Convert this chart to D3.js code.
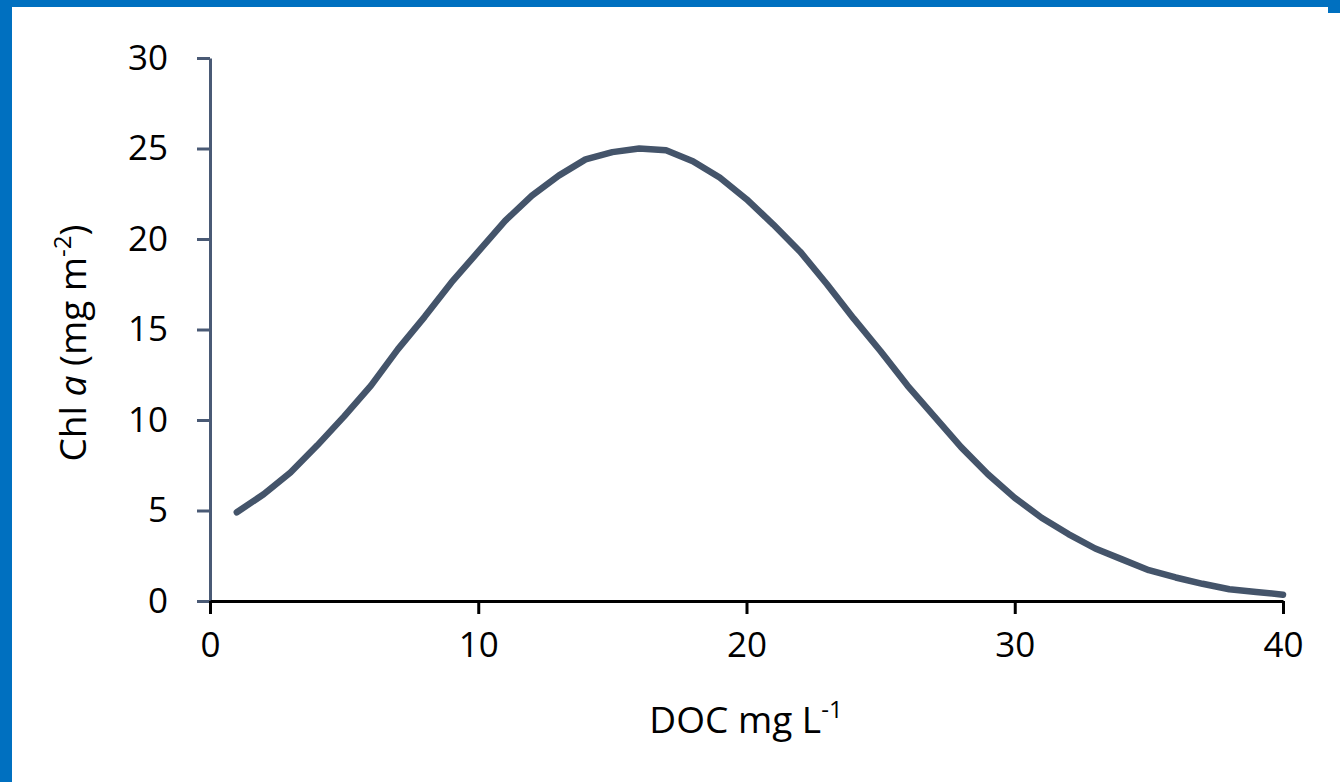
<!DOCTYPE html>
<html>
<head>
<meta charset="utf-8">
<script src="https://cdn.jsdelivr.net/npm/d3@7"></script>
<style>
  body { margin: 0; background: #fff; }
  text { font-family: "Open Sans", sans-serif; fill: #000; }
</style>
</head>
<body>
<div id="chart"></div>
<script>
const width = 1340, height = 782;

// DOC (mg/L) and Chl a (mg/m2)
const doc = [1, 2, 3, 4, 5, 6, 7, 8, 9, 10, 11, 12, 13, 14, 15, 16, 17, 18, 19, 20,
    21, 22, 23, 24, 25, 26, 27, 28, 29, 30, 31, 32, 33, 34, 35, 36, 37, 38, 39, 40];
const chl = [4.9, 5.9, 7.1, 8.6, 10.2, 11.9, 13.9, 15.7, 17.6, 19.3, 21.0, 22.4, 23.5, 24.4, 24.8, 25.0,
    24.9, 24.3, 23.4, 22.2, 20.8, 19.3, 17.5, 15.6, 13.8, 11.9, 10.2, 8.5, 7.0, 5.7,
    4.6, 3.7, 2.9, 2.3, 1.7, 1.3, 0.95, 0.65, 0.5, 0.35];
const xTicks = [0, 10, 20, 30, 40];
const yTicks = [0, 5, 10, 15, 20, 25, 30];

const svg = d3.select("#chart")
    .append("svg")
    .attr("width", width)
    .attr("height", height);

// blue frame
svg.append("rect").attr("x", 0).attr("y", 0).attr("width", width).attr("height", 7).attr("fill", "#0070C0");
svg.append("rect").attr("x", 0).attr("y", 0).attr("width", 12).attr("height", height).attr("fill", "#0070C0");
svg.append("rect").attr("x", 1328).attr("y", 0).attr("width", 12).attr("height", 13).attr("fill", "#0070C0");

const x = d3.scaleLinear().domain([0, 40]).range([210, 1283]);
const y = d3.scaleLinear().domain([0, 30]).range([601, 58]);

// y axis
const yAxis = svg.append("g")
    .attr("transform", "translate(210,0)")
    .call(d3.axisLeft(y).tickValues(yTicks).tickSize(13).tickPadding(29).tickSizeOuter(0));
yAxis.select(".domain").attr("stroke", "#4A5A75").attr("stroke-width", 3);
yAxis.selectAll(".tick line").attr("stroke", "#4A5A75").attr("stroke-width", 3);
yAxis.selectAll(".tick text").style("font-size", "35px").attr("fill", "#000");

// x axis
const xAxis = svg.append("g")
    .attr("transform", "translate(0,601)")
    .call(d3.axisBottom(x).tickValues(xTicks).tickSize(13).tickPadding(18).tickSizeOuter(0));
xAxis.select(".domain").attr("stroke", "#000").attr("stroke-width", 3);
xAxis.selectAll(".tick line").attr("stroke", "#000").attr("stroke-width", 3);
xAxis.selectAll(".tick text").style("font-size", "35px").attr("fill", "#000");

// curve
const line = d3.line()
    .x((d, i) => x(doc[i]))
    .y(d => y(d));

svg.append("path")
    .datum(chl)
    .attr("fill", "none")
    .attr("stroke", "#44546A")
    .attr("stroke-width", 6.5)
    .attr("stroke-linejoin", "round")
    .attr("stroke-linecap", "round")
    .attr("d", line);

// axis titles
const xt = svg.append("text")
    .attr("x", 746)
    .attr("y", 733)
    .attr("text-anchor", "middle")
    .style("font-size", "37px");
xt.append("tspan").text("DOC mg L");
xt.append("tspan").attr("dy", -15).style("font-size", "24px").text("-1");

const yt = svg.append("text")
    .attr("transform", "translate(86,343) rotate(-90)")
    .attr("text-anchor", "middle")
    .style("font-size", "37px");
yt.append("tspan").text("Chl ");
yt.append("tspan").style("font-style", "italic").text("a");
yt.append("tspan").text(" (mg m");
yt.append("tspan").attr("dy", -15).style("font-size", "24px").text("-2");
yt.append("tspan").attr("dy", 15).text(")");
</script>
</body>
</html>
